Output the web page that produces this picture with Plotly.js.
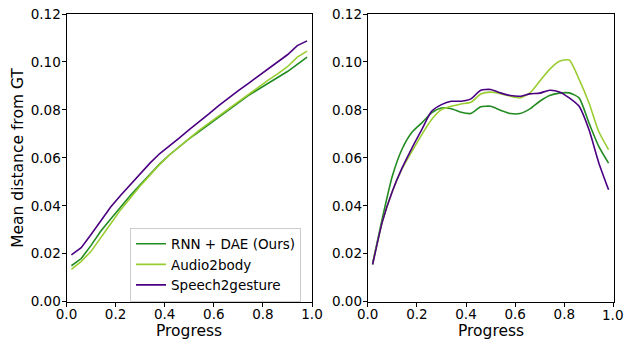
<!DOCTYPE html>
<html>
<head>
<meta charset="utf-8">
<script src="https://cdn.plot.ly/plotly-3.0.1.min.js"></script>
<style>html,body{margin:0;padding:0;background:#fff;}#chart{width:624px;height:339px;}</style>
</head>
<body>
<div id="chart"></div>
<script>
const progress = [0.02,0.06,0.10,0.14,0.18,0.22,0.26,0.30,0.34,0.38,0.42,0.46,0.50,0.54,0.58,0.62,0.66,0.70,0.74,0.78,0.82,0.86,0.90,0.94,0.98];
const seriesNames = ["RNN + DAE (Ours)", "Audio2body", "Speech2gesture"];
const seriesColors = ["#228B22", "#9ACD32", "#4B0082"];

// Left panel
const leftRnnDae = [0.015,0.018,0.0235,0.0295,0.0345,0.0395,0.0443,0.0488,0.0533,0.0575,0.0613,0.0648,0.068,0.071,0.074,0.077,0.080,0.083,0.086,0.0885,0.091,0.0933,0.096,0.099,0.102];
const leftAudio2body = [0.0135,0.0168,0.021,0.027,0.0325,0.0383,0.0435,0.0483,0.0528,0.0573,0.0613,0.0648,0.0683,0.0715,0.0745,0.0775,0.0805,0.0835,0.0865,0.0895,0.0923,0.095,0.098,0.102,0.1045];
const leftSpeech2gesture = [0.0195,0.0225,0.028,0.0335,0.0395,0.0443,0.0488,0.0533,0.0578,0.0618,0.065,0.0683,0.0718,0.075,0.0783,0.0818,0.085,0.088,0.091,0.094,0.097,0.100,0.103,0.1068,0.1088];

// Right panel
const rightRnnDae = [0.016,0.035,0.0523,0.0637,0.0707,0.0746,0.0788,0.0808,0.0805,0.079,0.0785,0.0813,0.0815,0.0799,0.0785,0.0785,0.0804,0.0836,0.086,0.087,0.0871,0.085,0.0746,0.0648,0.0578];
const rightAudio2body = [0.0155,0.0335,0.046,0.0555,0.0627,0.0697,0.076,0.0801,0.0815,0.0825,0.0832,0.0866,0.0874,0.0868,0.0857,0.085,0.0871,0.092,0.0969,0.1003,0.1008,0.0927,0.083,0.071,0.0634];
const rightSpeech2gesture = [0.0155,0.0335,0.046,0.0558,0.0641,0.0718,0.0794,0.0822,0.0836,0.0836,0.0846,0.0882,0.0885,0.0871,0.086,0.0857,0.0867,0.087,0.0882,0.0875,0.085,0.0815,0.0718,0.058,0.0467];

const yTicks = [0,0.02,0.04,0.06,0.08,0.10,0.12];
const xTicks = [0,0.2,0.4,0.6,0.8,1.0];
const xTickText = ['0.0','0.2','0.4','0.6','0.8','1.0'];
const xTitle = 'Progress';
const yTitle = 'Mean distance from GT';

const leftData = [leftRnnDae, leftAudio2body, leftSpeech2gesture];
const rightData = [rightRnnDae, rightAudio2body, rightSpeech2gesture];

const traces = [];
leftData.forEach((ys, i) => {
  traces.push({x: progress, y: ys, xaxis: 'x', yaxis: 'y', mode: 'lines', name: seriesNames[i],
    line: {color: seriesColors[i], width: 1.6}, showlegend: true});
});
rightData.forEach((ys, i) => {
  traces.push({x: progress, y: ys, xaxis: 'x2', yaxis: 'y2', mode: 'lines', name: seriesNames[i],
    line: {color: seriesColors[i], width: 1.6, shape: 'spline', smoothing: 0.6}, showlegend: false});
});

const FAM = '"DejaVu Sans", Verdana, sans-serif';
const font = {family: FAM, size: 13.5, color: '#000'};
const titleFont = {family: FAM, size: 15.5, color: '#000'};
function xa(domain, anchor, labels) {
  return {domain: domain, anchor: anchor, range: [0, 1], tickvals: xTicks, ticktext: labels,
    showline: true, mirror: true, linecolor: '#000', linewidth: 1, ticks: 'outside', ticklen: 4,
    tickcolor: '#000', showgrid: false, zeroline: false, tickfont: font, ticklabeloverflow: 'allow',
    ticklabelstandoff: -4};
}
function ya(domain, anchor) {
  return {domain: domain, anchor: anchor, range: [0, 0.12], tickvals: yTicks, tickformat: '.2f',
    showline: true, mirror: true, linecolor: '#000', linewidth: 1, ticks: 'outside', ticklen: 4,
    tickcolor: '#000', showgrid: false, zeroline: false, tickfont: font, ticklabeloverflow: 'allow',
    ticklabelstandoff: -2};
}
const yDom = [1 - 301.7/339, 1 - 14/339];
const xDom1 = [66.5/624, 312/624];
const xDom2 = [367.7/624, 613.5/624];
// the right panel's last label touches the page edge, so the axis drops it; draw it as text instead
const rightTickText = xTickText.slice(0, -1).concat(['']);
const layout = {
  width: 624, height: 339,
  margin: {l: 0, r: 0, t: 0, b: 0},
  paper_bgcolor: '#fff', plot_bgcolor: '#fff',
  font: font,
  xaxis: xa(xDom1, 'y', xTickText),
  yaxis: ya(yDom, 'x'),
  xaxis2: xa(xDom2, 'y2', rightTickText),
  yaxis2: ya(yDom, 'x2'),
  legend: {x: 130/624, y: 1 - 227.5/339, xanchor: 'left', yanchor: 'top', bgcolor: 'rgba(255,255,255,0.8)',
    bordercolor: '#cccccc', borderwidth: 1, font: font, itemwidth: 30, tracegroupgap: 0},
  annotations: [
    {text: xTitle, xref: 'paper', yref: 'paper', x: (xDom1[0]+xDom1[1])/2, y: 0, xanchor: 'center', yanchor: 'bottom', yshift: -2, showarrow: false, font: titleFont, borderpad: 0},
    {text: xTitle, xref: 'paper', yref: 'paper', x: (xDom2[0]+xDom2[1])/2, y: 0, xanchor: 'center', yanchor: 'bottom', yshift: -2, showarrow: false, font: titleFont, borderpad: 0},
    {text: yTitle, xref: 'paper', yref: 'paper', x: 18/624, y: (yDom[0]+yDom[1])/2, xanchor: 'center', yanchor: 'middle', textangle: -90, showarrow: false, font: titleFont},
    {text: xTickText[xTickText.length - 1], xref: 'paper', yref: 'paper', x: 1, y: yDom[0], xanchor: 'right', yanchor: 'top', yshift: -4, showarrow: false, font: font, borderpad: 0}
  ]
};
Plotly.newPlot('chart', traces, layout, {staticPlot: true, displayModeBar: false});
</script>
</body>
</html>
